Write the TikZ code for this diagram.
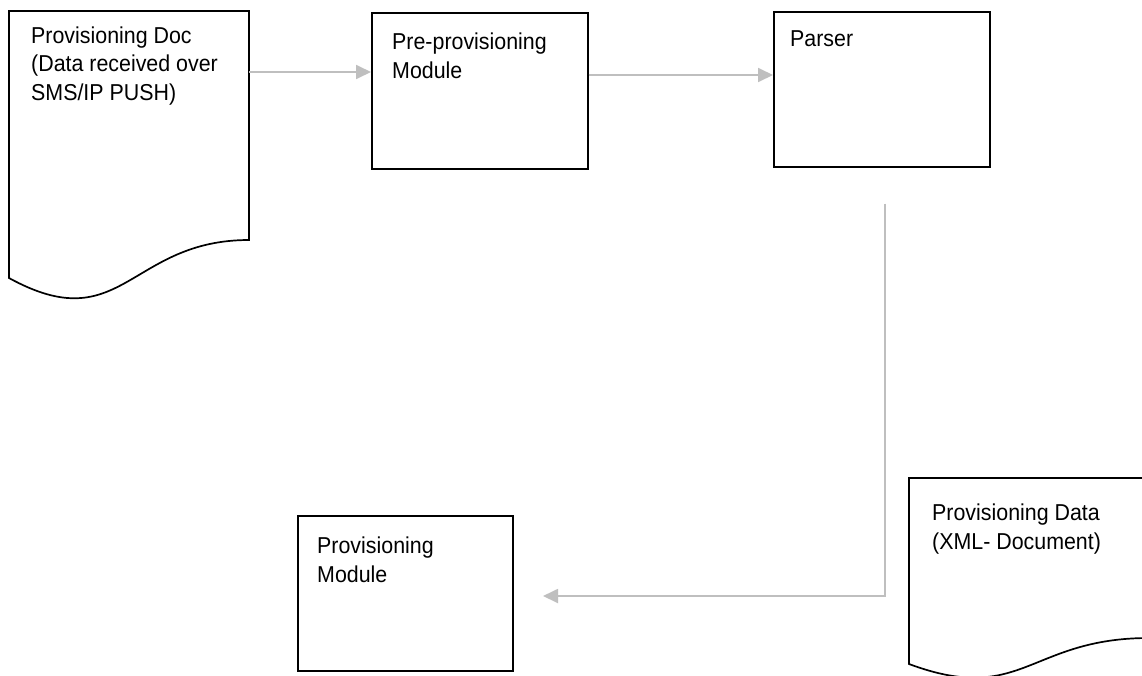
\documentclass[tikz,border=0pt]{standalone}
\usepackage{fontspec}
\setmainfont{Liberation Sans}[FakeStretch=0.93]
\usetikzlibrary{arrows.meta,calc}

\definecolor{flowgray}{HTML}{BFBFBF}

\tikzset{
  box/.style={draw=black, line width=1.7pt, fill=white, rectangle, inner sep=0pt, anchor=north west},
  docshape/.style={draw=black, line width=1.7pt, fill=white, line join=miter},
  % labels are placed by the baseline of their last line
  lbl/.style={inner sep=0pt, anchor=base west, align=left,
              font=\fontsize{23}{28.5}\selectfont},
  flow/.style={draw=flowgray, line width=1.8pt,
               -{Triangle[length=15pt,width=14pt]}},
}

\begin{document}
\begin{tikzpicture}[x=1pt, y=-1pt]
\useasboundingbox (0,0) rectangle (1142,675);
\clip (0,0) rectangle (1142,675);
\fill[white] (0,0) rectangle (1142,675);

% incoming provisioning document (flowchart "document" shape)
\draw[docshape] (9,11) -- (249,11) -- (249,240)
  .. controls (129,240) and (122,340) .. (9,278) -- cycle;
\coordinate (docin) at (249,72);
\node[lbl] (docintext) at (31,100) {Provisioning Doc\\(Data received over\\SMS/IP PUSH)};

% processing boxes
\node[box, minimum width=216pt, minimum height=156pt] (pre) at (371,12) {};
\node[lbl] (pretext) at (392,78) {Pre-provisioning\\Module};

\node[box, minimum width=216pt, minimum height=155pt] (parser) at (773,11) {};
\node[lbl] (parsertext) at (790,46) {Parser};

\node[box, minimum width=215pt, minimum height=155pt] (pm) at (297,515) {};
\node[lbl] (pmtext) at (317,582) {Provisioning\\Module};

% resulting XML document
\draw[docshape] (909,478) -- (1149,478) -- (1149,638)
  .. controls (1029,638) and (1022,706) .. (909,664) -- cycle;
\node[lbl] (xmltext) at (932,549) {Provisioning Data\\(XML- Document)};

% connectors
\coordinate (a2) at (0,75);
\coordinate (pout) at ([xshift=3pt, yshift=-36pt]parser.south);
\coordinate (pin) at (543,596);
\draw[flow] (docin) -- (docin -| pre.west);
\draw[flow] (a2 -| pre.east) -- (a2 -| parser.west);
\draw[flow] (pout) |- (pin);
\end{tikzpicture}
\end{document}
